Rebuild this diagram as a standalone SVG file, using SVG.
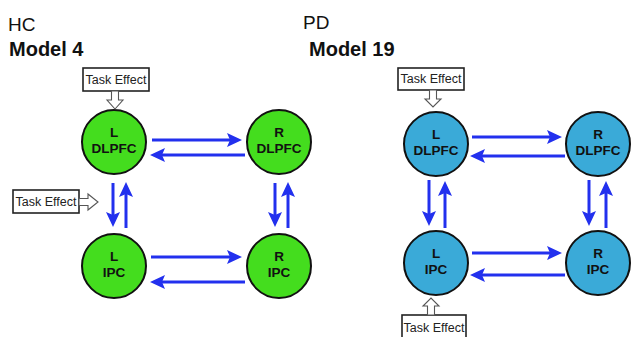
<svg xmlns="http://www.w3.org/2000/svg" width="631" height="337" viewBox="0 0 631 337">
<style>
.title{font-family:"Liberation Sans",Arial,sans-serif;font-size:19px;fill:#111}
.bold{font-weight:bold;font-size:20px}
.node circle{stroke:#111;stroke-width:2}
.g circle{fill:#44dd1e}
.b circle{fill:#3aaad8}
.node text{font-family:"Liberation Sans",Arial,sans-serif;font-weight:bold;font-size:13.5px;fill:#111;text-anchor:middle}
.te rect{fill:#fff;stroke:#222;stroke-width:1.6}
.te text{font-family:"Liberation Sans",Arial,sans-serif;font-size:12.5px;fill:#222;text-anchor:middle}
.te polygon{fill:#fff;stroke:#555;stroke-width:1.1}
.conn line{stroke:#2230ee;stroke-width:3;marker-end:url(#ah)}
</style>
<defs>
<marker id="ah" markerUnits="userSpaceOnUse" markerWidth="15" markerHeight="14" viewBox="0 0 15 14" refX="5" refY="7" orient="auto">
<path d="M0,0 L15,7 L0,14 L3,7 z" fill="#2230ee"/>
</marker>
</defs>
<rect width="631" height="337" fill="#fff"/>
<text class="title" x="8" y="31">HC</text>
<text class="title bold" x="9" y="56">Model 4</text>
<text class="title" x="303" y="29">PD</text>
<text class="title bold" x="309" y="56">Model 19</text>

<g class="conn">
<line x1="152" y1="140" x2="232" y2="140"/>
<line x1="245" y1="155" x2="160" y2="155"/>
<line x1="151" y1="257" x2="232" y2="257"/>
<line x1="245" y1="282" x2="160" y2="282"/>
<line x1="113" y1="183" x2="113" y2="217"/>
<line x1="126" y1="228" x2="126" y2="192"/>
<line x1="275" y1="183" x2="275" y2="217"/>
<line x1="288" y1="228" x2="288" y2="192"/>
<line x1="472" y1="137" x2="552" y2="137"/>
<line x1="565" y1="156" x2="480" y2="156"/>
<line x1="472" y1="253" x2="552" y2="253"/>
<line x1="565" y1="275" x2="480" y2="275"/>
<line x1="429" y1="180" x2="429" y2="216"/>
<line x1="445" y1="228" x2="445" y2="191"/>
<line x1="589" y1="180" x2="589" y2="216"/>
<line x1="606" y1="228" x2="606" y2="191"/>
</g>

<g id="hc-l-dlpfc" class="node g"><circle cx="114" cy="142" r="32"/><text x="114" y="137">L</text><text x="114" y="153">DLPFC</text></g>
<g id="hc-r-dlpfc" class="node g"><circle cx="279" cy="142" r="32"/><text x="279" y="137">R</text><text x="279" y="153">DLPFC</text></g>
<g id="hc-l-ipc" class="node g"><circle cx="114" cy="266" r="32"/><text x="114" y="261">L</text><text x="114" y="277">IPC</text></g>
<g id="hc-r-ipc" class="node g"><circle cx="279" cy="266" r="32"/><text x="279" y="261">R</text><text x="279" y="277">IPC</text></g>

<g id="pd-l-dlpfc" class="node b"><circle cx="436" cy="144" r="32"/><text x="436" y="139">L</text><text x="436" y="155">DLPFC</text></g>
<g id="pd-r-dlpfc" class="node b"><circle cx="598" cy="144" r="32"/><text x="598" y="139">R</text><text x="598" y="155">DLPFC</text></g>
<g id="pd-l-ipc" class="node b"><circle cx="436" cy="263" r="32"/><text x="436" y="258">L</text><text x="436" y="274">IPC</text></g>
<g id="pd-r-ipc" class="node b"><circle cx="598" cy="263" r="32"/><text x="598" y="258">R</text><text x="598" y="274">IPC</text></g>

<g id="hc-task-top" class="te">
<rect x="83" y="68" width="66" height="23"/><text x="116" y="84">Task Effect</text>
<polygon points="111.5,91 118.5,91 118.5,100 123,100 115,109 107,100 111.5,100"/>
</g>
<g id="hc-task-left" class="te">
<rect x="13" y="190" width="66" height="23"/><text x="46" y="206">Task Effect</text>
<polygon points="79,198.5 88,198.5 88,194 98,202 88,210 88,205.5 79,205.5"/>
</g>
<g id="pd-task-top" class="te">
<rect x="398" y="68" width="66" height="22"/><text x="431" y="83">Task Effect</text>
<polygon points="429.5,90 436.5,90 436.5,99 441,99 433,107 425,99 429.5,99"/>
</g>
<g id="pd-task-bottom" class="te">
<rect x="402" y="315" width="64" height="26"/><text x="434" y="332">Task Effect</text>
<polygon points="427.5,315 434.5,315 434.5,306 439,306 431,298 423,306 427.5,306"/>
</g>
</svg>
